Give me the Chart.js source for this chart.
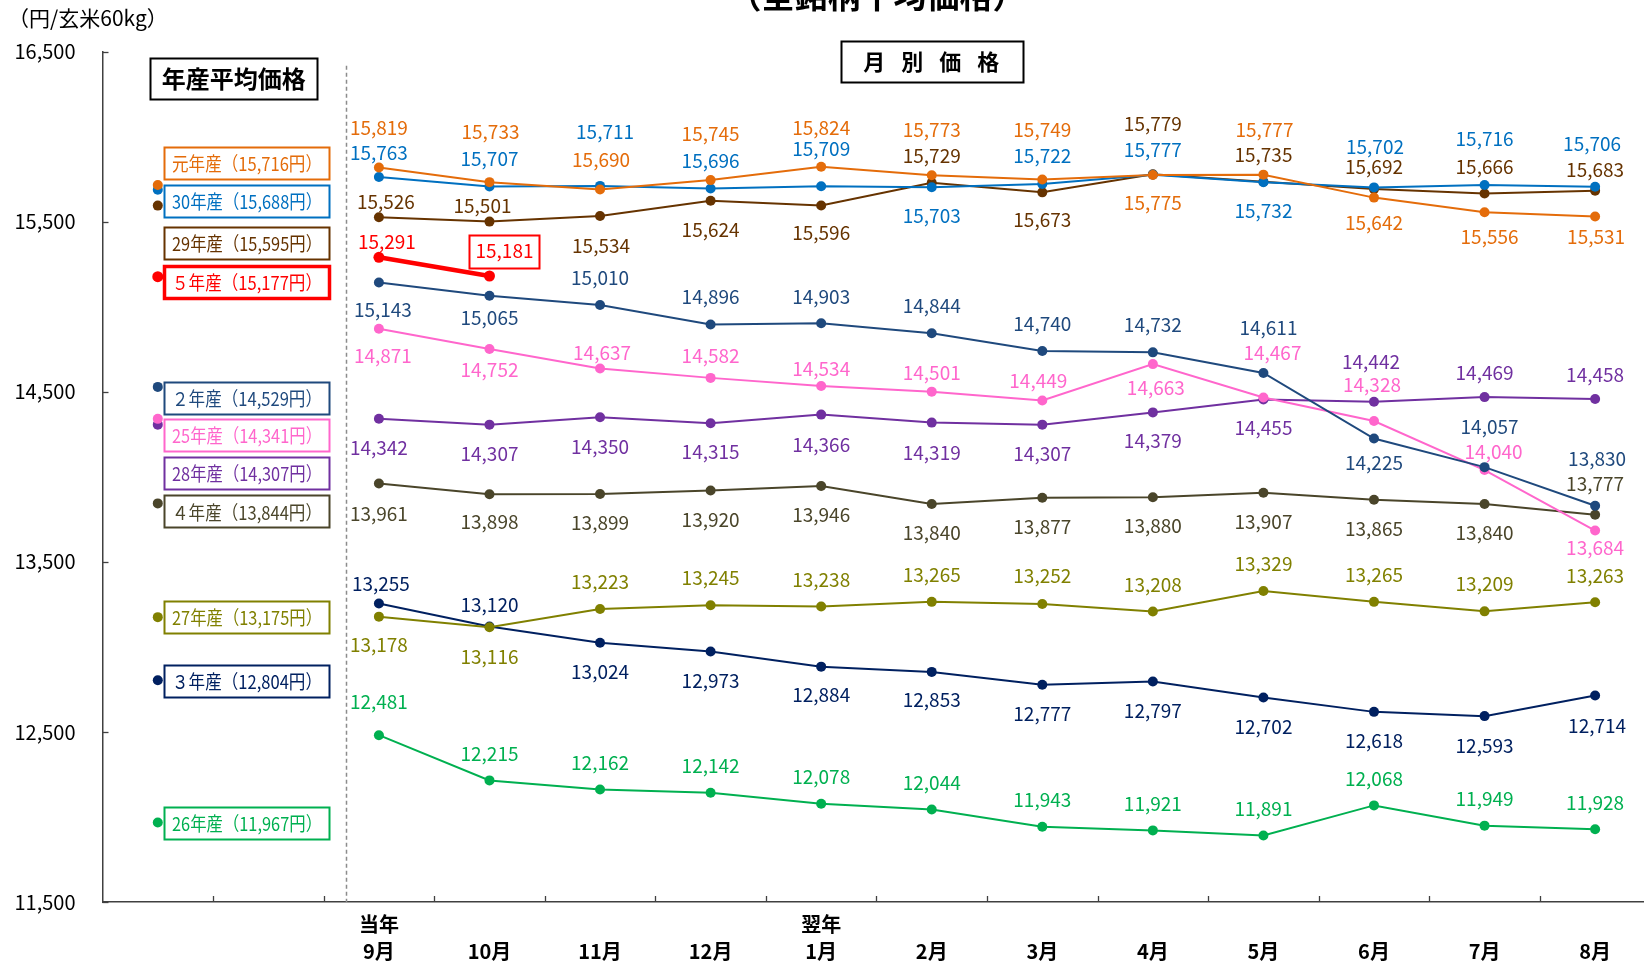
<!DOCTYPE html>
<html>
<head>
<meta charset="utf-8">
<script src="https://cdn.jsdelivr.net/npm/chart.js@4.4.1/dist/chart.umd.min.js"></script>
<style>
  html, body { margin: 0; padding: 0; background: #fff; overflow: hidden; width: 1644px; height: 962px; }
  canvas { display: block; }
</style>
</head>
<body>
<canvas id="c" width="1660" height="962"></canvas>
<script>
const FONT = '"Noto Sans CJK JP", "Noto Sans", sans-serif';

// x-axis slots: two for the crop-year averages, then Sep..Aug
const xLabels = ['', '', ['当年', '9月'], ['', '10月'], ['', '11月'], ['', '12月'], ['翌年', '1月'],
  ['', '2月'], ['', '3月'], ['', '4月'], ['', '5月'], ['', '6月'], ['', '7月'], ['', '8月']];

const yMin = 11500, yMax = 16500, yStep = 1000;

const crops = ['元年産', '30年産', '29年産', '５年産', '２年産', '25年産', '28年産', '４年産', '27年産', '３年産', '26年産'];
const cropAverages = [15716, 15688, 15595, 15177, 14529, 14341, 14307, 13844, 13175, 12804, 11967];

// monthly prices, Sep..Aug (円/玄米60kg)
const pR1  = [15819, 15733, 15690, 15745, 15824, 15773, 15749, 15775, 15777, 15642, 15556, 15531];
const pH30 = [15763, 15707, 15711, 15696, 15709, 15703, 15722, 15777, 15732, 15702, 15716, 15706];
const pH29 = [15526, 15501, 15534, 15624, 15596, 15729, 15673, 15779, 15735, 15692, 15666, 15683];
const pR5  = [15291, 15181];
const pR2  = [15143, 15065, 15010, 14896, 14903, 14844, 14740, 14732, 14611, 14225, 14057, 13830];
const pH25 = [14871, 14752, 14637, 14582, 14534, 14501, 14449, 14663, 14467, 14328, 14040, 13684];
const pH28 = [14342, 14307, 14350, 14315, 14366, 14319, 14307, 14379, 14455, 14442, 14469, 14458];
const pR4  = [13961, 13898, 13899, 13920, 13946, 13840, 13877, 13880, 13907, 13865, 13840, 13777];
const pH27 = [13178, 13116, 13223, 13245, 13238, 13265, 13252, 13208, 13329, 13265, 13209, 13263];
const pR3  = [13255, 13120, 13024, 12973, 12884, 12853, 12777, 12797, 12702, 12618, 12593, 12714];
const pH26 = [12481, 12215, 12162, 12142, 12078, 12044, 11943, 11921, 11891, 12068, 11949, 11928];
const monthly = [pR1, pH30, pH29, pR5, pR2, pH25, pH28, pR4, pH27, pR3, pH26];

// styling
const colors = ['#E46C0A', '#0070C0', '#663300', '#FF0000', '#1F497D', '#FF66CC', '#7030A0', '#4A452A', '#808000', '#002060', '#00B050'];
const lineWidths = [2, 2, 2, 4.5, 2, 2, 2, 2, 2, 2, 2];

// value-label placement relative to each point (px)
const labelDy = [
  [-40, -50, -30, -46, -39, -46, -50, 28, -45, 25, 25, 20],
  [-24, -28, -54, -28, -37, 29, -28, -25, 28, -41, -46, -43],
  [-16, -16, 30, 29, 27, -27, 27, -51, -27, -22, -27, -21],
  [-16, -25],
  [27, 22, -27, -28, -27, -28, -27, -28, -45, 24, -40, -47],
  [27, 21, -16, -22, -17, -19, -20, 24, -45, -36, -18, 17],
  [29, 29, 29, 29, 30, 30, 29, 28, 28, -40, -24, -24],
  [30, 28, 29, 29, 29, 29, 29, 29, 29, 29, 29, -31],
  [28, 30, -27, -27, -27, -27, -28, -27, -27, -27, -28, -26],
  [-20, -22, 29, 29, 28, 28, 29, 29, 29, 29, 30, 30],
  [-33, -27, -27, -27, -27, -27, -27, -27, -27, -27, -27, -26]
];
const labelDx = [
  [0, 1, 1, 0, 0, 0, 0, 0, 1, 0, 5, 1],
  [0, 0, 5, 0, 0, 0, 0, 0, 0, 1, 0, -3],
  [7, -7, 1, 0, 0, 0, 0, 0, 0, 0, 0, 0],
  [8, 15],
  [4, 0, 0, 0, 0, 0, 0, 0, 5, 0, 5, 2],
  [4, 0, 2, 0, 0, 0, -4, 3, 9, -2, 9, 0],
  [0, 0, 0, 0, 0, 0, 0, 0, 0, -3, 0, 0],
  [0, 0, 0, 0, 0, 0, 0, 0, 0, 0, 0, 0],
  [0, 0, 0, 0, 0, 0, 0, 0, 0, 0, 0, 0],
  [2, 0, 0, 0, 0, 0, 0, 0, 0, 0, 0, 2],
  [0, 0, 0, 0, 0, 0, 0, 0, 0, 0, 0, 0]
];
// vertical shift of each crop-year box from its average dot
const boxDy = [-22, 11, 37, 5, 11, 16, 48, 8, 0, 1, 0];
// the latest month of ５年産 is framed
const framedLabel = { series: 3, index: 1 };

const fmt = v => v.toLocaleString('en-US');

const datasets = crops.map((name, i) => {
  const data = [cropAverages[i], null, ...monthly[i]];
  while (data.length < xLabels.length) data.push(null);
  return {
    label: name,
    data,
    borderColor: colors[i],
    backgroundColor: colors[i],
    pointBackgroundColor: colors[i],
    pointBorderColor: colors[i],
    borderWidth: lineWidths[i],
    pointRadius: i === 3 ? 5.5 : 5,
    pointBorderWidth: 0,
    tension: 0,
    spanGaps: false
  };
});

const decor = {
  id: 'decor',
  beforeDatasetsDraw(chart) {
    const { ctx, chartArea: a, scales: { x, y } } = chart;
    const w = (a.right - a.left) / xLabels.length;
    ctx.save();
    ctx.strokeStyle = '#404040';
    ctx.lineWidth = 1.3;
    for (let v = yMin; v <= yMax; v += yStep) {
      const py = Math.round(y.getPixelForValue(v)) + 0.5;
      ctx.beginPath(); ctx.moveTo(a.left, py); ctx.lineTo(a.left + 6, py); ctx.stroke();
    }
    for (let i = 1; i < xLabels.length; i++) {
      const px = Math.round(a.left + i * w) + 0.5;
      ctx.beginPath(); ctx.moveTo(px, a.bottom); ctx.lineTo(px, a.bottom - 6); ctx.stroke();
    }
    // separator between averages and monthly prices
    const sx = Math.round(x.getPixelForValue(1) + 0.7 * w) + 0.5;
    ctx.strokeStyle = '#8c8c8c';
    ctx.lineWidth = 1.5;
    ctx.setLineDash([4, 3]);
    ctx.beginPath(); ctx.moveTo(sx, a.top + 14); ctx.lineTo(sx, a.bottom); ctx.stroke();
    ctx.restore();
  },
  afterDatasetsDraw(chart) {
    const { ctx, chartArea: a, scales: { x } } = chart;
    ctx.save();
    // monthly value labels
    ctx.font = '19px ' + FONT;
    ctx.textAlign = 'center';
    ctx.textBaseline = 'middle';
    crops.forEach((name, i) => {
      const meta = chart.getDatasetMeta(i);
      monthly[i].forEach((v, j) => {
        const pt = meta.data[j + 2];
        const lx = pt.x + labelDx[i][j];
        const ly = pt.y + labelDy[i][j];
        ctx.fillStyle = colors[i];
        ctx.fillText(fmt(v), lx, ly);
        if (framedLabel.series === i && framedLabel.index === j) {
          const tw = ctx.measureText(fmt(v)).width;
          ctx.strokeStyle = colors[i];
          ctx.lineWidth = 2;
          ctx.strokeRect(Math.round(lx - tw / 2 - 6) + 0.5, Math.round(ly - 16.5) + 0.5, Math.round(tw + 12), 33);
        }
      });
    });
    // crop-year average boxes
    ctx.font = '19px ' + FONT;
    crops.forEach((name, i) => {
      const pt = chart.getDatasetMeta(i).data[0];
      const left = Math.round(x.getPixelForValue(0) + 6.5) + 0.5;
      const cy = pt.y + boxDy[i];
      const top = Math.round(cy - 16) + 0.5;
      ctx.strokeStyle = colors[i];
      ctx.lineWidth = i === 3 ? 3.5 : 2;
      ctx.strokeRect(left, top, 165, 32);
      ctx.fillStyle = colors[i];
      ctx.fillText(name + '（' + fmt(cropAverages[i]) + '円）', left + 82.5, cy + 1, 150);
    });
    // section headings
    ctx.strokeStyle = '#000';
    ctx.lineWidth = 2;
    ctx.fillStyle = '#000';
    ctx.font = 'bold 24px ' + FONT;
    const hx = x.getPixelForValue(0) - 7.5;
    ctx.strokeRect(Math.round(hx) + 0.5, Math.round(a.top + 6) + 0.5, 167, 41);
    ctx.fillText('年産平均価格', hx + 83.5, a.top + 27);
    ctx.font = 'bold 22px ' + FONT;
    const mx = x.getPixelForValue(6) + 20;
    ctx.strokeRect(Math.round(mx) + 0.5, Math.round(a.top - 11) + 0.5, 182, 41);
    const heading = '月 別 価 格'.split(' ');
    heading.forEach((ch, k) => ctx.fillText(ch, mx + 33 + k * 38, a.top + 10));
    // unit and clipped title along the top edge
    ctx.font = '21px ' + FONT;
    ctx.textAlign = 'left';
    ctx.fillText('（円/玄米60kg）', 8, 18);
    ctx.font = 'bold 33px ' + FONT;
    ctx.textAlign = 'center';
    ctx.textBaseline = 'ideographic';
    ctx.fillText('（全銘柄平均価格）', 877, 12);
    ctx.restore();
  }
};

new Chart(document.getElementById('c'), {
  type: 'line',
  data: { labels: xLabels, datasets },
  options: {
    responsive: false,
    animation: false,
    clip: false,
    layout: { padding: { top: 51.7, right: 9.6, left: 0, bottom: 0 } },
    plugins: { legend: { display: false }, tooltip: { enabled: false }, title: { display: false } },
    scales: {
      x: {
        type: 'category',
        offset: true,
        grid: { display: false, drawTicks: false },
        border: { display: true, color: '#404040', width: 1.5 },
        ticks: {
          autoSkip: false, maxRotation: 0, padding: 9.5, color: '#000',
          font: { family: FONT, size: 20, weight: 'bold', lineHeight: 1.33 }
        },
        afterFit(scale) { scale.height = 60; }
      },
      y: {
        min: yMin, max: yMax,
        grid: { display: false, drawTicks: false },
        border: { display: true, color: '#404040', width: 1.5 },
        ticks: {
          stepSize: yStep, padding: 27, color: '#000',
          font: { family: FONT, size: 20 },
          callback: v => fmt(v)
        },
        afterFit(scale) { scale.width = 102.5; }
      }
    }
  },
  plugins: [decor]
});
</script>
</body>
</html>
